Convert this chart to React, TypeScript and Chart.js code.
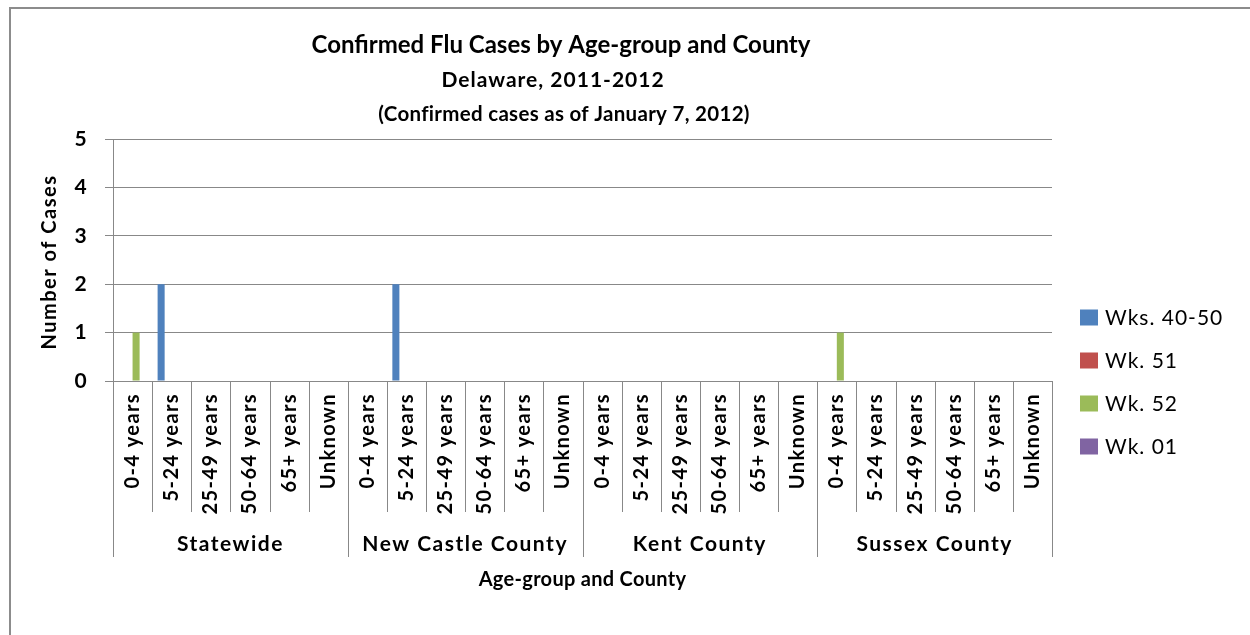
import React, { useEffect, useRef } from "react";
import { Chart, registerables } from "chart.js";

Chart.register(...registerables);

const ageGroups = ["0-4 years", "5-24 years", "25-49 years", "50-64 years", "65+ years", "Unknown"];
const counties = ["Statewide", "New Castle County", "Kent County", "Sussex County"];
const categoryLabels = counties.flatMap(() => ageGroups);

const seriesNames = ["Wks. 40-50", "Wk. 51", "Wk. 52", "Wk. 01"];
const wks40to50 = [0, 2, 0, 0, 0, 0, 0, 2, 0, 0, 0, 0, 0, 0, 0, 0, 0, 0, 0, 0, 0, 0, 0, 0];
const wk51 = [0, 0, 0, 0, 0, 0, 0, 0, 0, 0, 0, 0, 0, 0, 0, 0, 0, 0, 0, 0, 0, 0, 0, 0];
const wk52 = [1, 0, 0, 0, 0, 0, 0, 0, 0, 0, 0, 0, 0, 0, 0, 0, 0, 0, 1, 0, 0, 0, 0, 0];
const wk01 = [0, 0, 0, 0, 0, 0, 0, 0, 0, 0, 0, 0, 0, 0, 0, 0, 0, 0, 0, 0, 0, 0, 0, 0];
const seriesValues = [wks40to50, wk51, wk52, wk01];
const seriesColors = ["#4F81BD", "#C0504D", "#9BBB59", "#8064A2"];

const yMin = 0;
const yMax = 5;
const yStep = 1;

const titleLines = [
  "Confirmed Flu Cases by Age-group and County",
  "Delaware, 2011-2012",
  "(Confirmed cases as of January 7, 2012)",
];
const yAxisTitle = "Number of Cases";
const xAxisTitle = "Age-group and County";

const FONT = "Lato, 'Noto Sans', sans-serif";
const GRID = "#888888";

const spacingPlugin = {
  id: "spacing",
  beforeDraw(chart: any) {
    (chart.ctx as any).letterSpacing = "1.4px";
  },
};

const decorPlugin = {
  id: "decor",
  afterDraw(chart: any) {
    const ctx = chart.ctx as any;
    const area = chart.chartArea;
    const xs = chart.scales.x;
    const n = categoryLabels.length;
    const catW = (area.right - area.left) / n;
    ctx.save();

    // outer border
    ctx.strokeStyle = "#8c8c8c";
    ctx.lineWidth = 2;
    ctx.beginPath();
    ctx.moveTo(10, 660);
    ctx.lineTo(10, 8);
    ctx.lineTo(1270, 8);
    ctx.stroke();

    // titles
    ctx.fillStyle = "#000";
    ctx.textAlign = "center";
    ctx.textBaseline = "alphabetic";
    ctx.letterSpacing = "0px";
    ctx.font = `bold 24px ${FONT}`;
    ctx.fillText(titleLines[0], 561, 53);
    ctx.letterSpacing = "1px";
    ctx.font = `bold 21px ${FONT}`;
    ctx.fillText(titleLines[1], 553, 87);
    ctx.letterSpacing = "0.3px";
    ctx.font = `bold 20.5px ${FONT}`;
    ctx.fillText(titleLines[2], 564, 121);

    // y-axis title
    ctx.save();
    ctx.translate(50, (area.top + area.bottom) / 2 + 2);
    ctx.rotate(-Math.PI / 2);
    ctx.textBaseline = "middle";
    ctx.letterSpacing = "1.5px";
    ctx.font = `bold 20px ${FONT}`;
    ctx.fillText(yAxisTitle, 0, 0);
    ctx.restore();

    // category separators
    ctx.strokeStyle = GRID;
    ctx.lineWidth = 1;
    for (let i = 0; i <= n; i++) {
      const x = Math.round(xs.getPixelForTick(Math.min(i, n - 1)) + (i === n ? catW / 2 : -catW / 2)) + 0.5;
      const long = i % ageGroups.length === 0;
      ctx.beginPath();
      ctx.moveTo(x, area.bottom);
      ctx.lineTo(x, long ? area.bottom + 176 : area.bottom + 131);
      ctx.stroke();
    }

    // county labels
    ctx.font = `bold 21px ${FONT}`;
    ctx.letterSpacing = "1.5px";
    ctx.textBaseline = "alphabetic";
    counties.forEach((c, k) => {
      const x0 = area.left + k * ageGroups.length * catW;
      const x1 = x0 + ageGroups.length * catW;
      ctx.fillText(c, (x0 + x1) / 2, area.bottom + 170);
    });

    // x-axis title
    ctx.font = `bold 20px ${FONT}`;
    ctx.letterSpacing = "0.3px";
    ctx.fillText(xAxisTitle, (area.left + area.right) / 2, area.bottom + 205);

    // legend
    ctx.textAlign = "left";
    ctx.textBaseline = "middle";
    ctx.letterSpacing = "1px";
    ctx.font = `21px ${FONT}`;
    seriesNames.forEach((name, i) => {
      const cy = 317.5 + i * 43;
      ctx.fillStyle = seriesColors[i];
      ctx.fillRect(1080, cy - 8, 18, 16);
      ctx.fillStyle = "#000";
      ctx.fillText(name, 1105, cy + 1);
    });

    ctx.restore();
  },
};

export default function App() {
  const canvasRef = useRef<HTMLCanvasElement | null>(null);

  useEffect(() => {
    const canvas = canvasRef.current;
    if (!canvas) return;
    const chart = new Chart(canvas, {
      type: "bar",
      data: {
        labels: categoryLabels,
        datasets: seriesNames.map((name, i) => ({
          label: name,
          data: seriesValues[i],
          backgroundColor: seriesColors[i],
          borderWidth: 0,
          categoryPercentage: 0.72,
          barPercentage: 1,
        })),
      },
      options: {
        responsive: false,
        animation: false,
        events: [],
        layout: { padding: { left: 20, right: 198, top: 139, bottom: 0 } },
        plugins: {
          legend: { display: false },
          title: { display: false },
          tooltip: { enabled: false },
        },
        scales: {
          x: {
            offset: true,
            grid: { display: false, drawTicks: false },
            border: { display: false },
            ticks: {
              autoSkip: false,
              minRotation: 90,
              maxRotation: 90,
              padding: 12,
              color: "#000",
              font: { family: FONT, size: 20, weight: "bold" },
            },
            afterFit: (s: any) => {
              s.height = 254;
            },
          },
          y: {
            min: yMin,
            max: yMax,
            ticks: {
              stepSize: yStep,
              padding: 17,
              color: "#000",
              font: { family: FONT, size: 21, weight: "bold" },
            },
            grid: { color: GRID, lineWidth: 1, tickLength: 8 },
            border: { display: true, color: GRID, width: 1 },
            afterFit: (s: any) => {
              s.width = 93;
            },
          },
        },
      },
      plugins: [spacingPlugin, decorPlugin],
    });
    return () => chart.destroy();
  }, []);

  return (
    <div style={{ position: "absolute", left: 0, top: 0, width: 1250, height: 635, background: "#fff" }}>
      <canvas ref={canvasRef} width={1250} height={635} style={{ display: "block" }} />
    </div>
  );
}
